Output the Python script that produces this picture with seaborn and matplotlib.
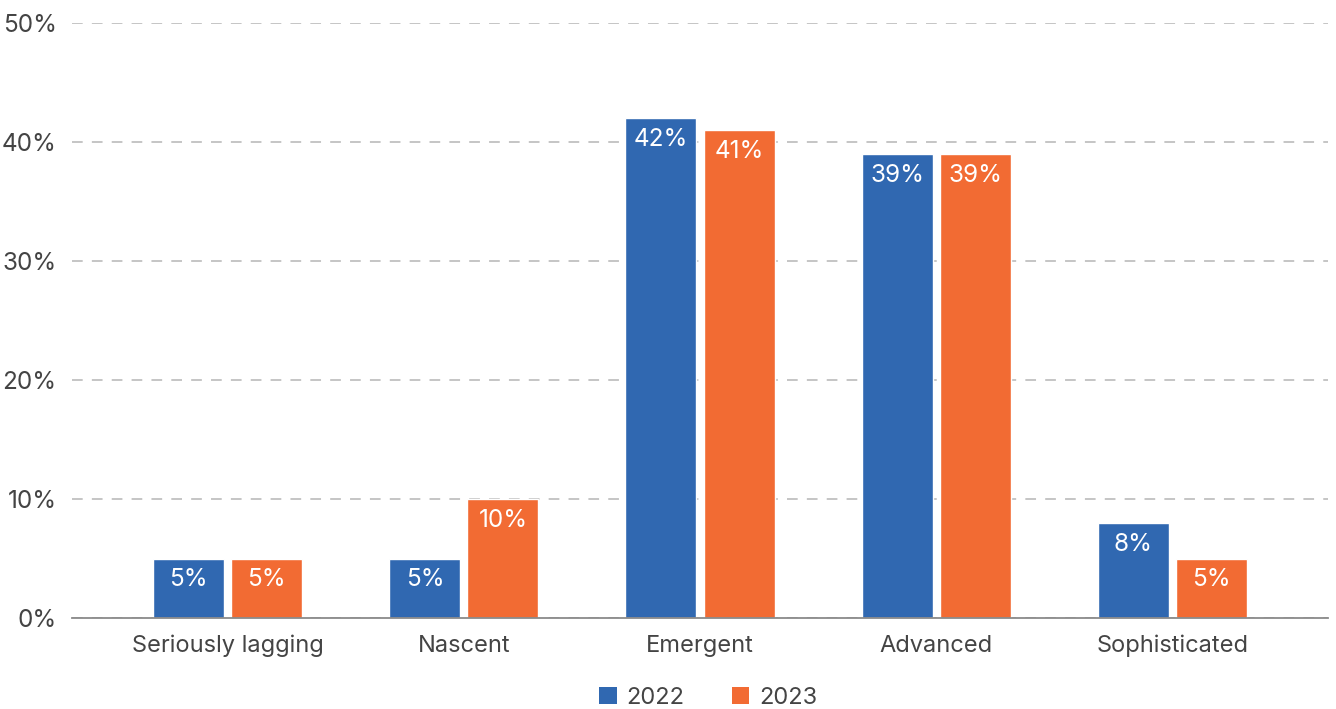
import matplotlib
matplotlib.use("Agg")
import matplotlib.pyplot as plt
import seaborn as sns
import pandas as pd
from matplotlib.patches import Patch

categories = ["Seriously lagging", "Nascent", "Emergent", "Advanced", "Sophisticated"]
years = ["2022", "2023"]
values_2022 = [5, 5, 42, 39, 8]
values_2023 = [5, 10, 41, 39, 5]
yticks = [0, 10, 20, 30, 40, 50]

colors = {"2022": "#3068B1", "2023": "#F26B33"}

df = pd.DataFrame({
    "category": categories * 2,
    "year": ["2022"] * len(categories) + ["2023"] * len(categories),
    "value": values_2022 + values_2023,
})

sns.set_theme(style="white")
plt.rcParams["font.family"] = ["Inter", "DejaVu Sans"]

fig = plt.figure(figsize=(13.36, 7.09), dpi=100)
ax = fig.add_axes([0.0539, 0.1283, 0.9401, 0.8393])

sns.barplot(data=df, x="category", y="value", hue="year", order=categories,
            hue_order=years, palette=colors, width=0.661, gap=0.09,
            saturation=1, ax=ax, legend=False)

ax.set_ylim(0, 50)
ax.set_xlim(-0.66, 4.66)
ax.set_yticks(yticks)
ax.set_yticklabels([f"{t}%" for t in yticks])
ax.yaxis.grid(True, linestyle=(0, (7, 6)), color="#b5b5b5", linewidth=1.1)
ax.set_axisbelow(True)
for s in ["top", "right", "left"]:
    ax.spines[s].set_visible(False)
ax.spines["bottom"].set_color("#8a8a8a")
ax.spines["bottom"].set_linewidth(1.3)
ax.set_xlabel("")
ax.set_ylabel("")
ax.tick_params(axis="y", length=0, pad=11, labelsize=17.5, labelcolor="#444444")
ax.tick_params(axis="x", length=0, pad=12, labelsize=17, labelcolor="#444444")

for cont in ax.containers:
    for bar in cont:
        h = bar.get_height()
        ax.annotate(f"{h:g}%", (bar.get_x() + bar.get_width() / 2, h),
                    xytext=(0, -7), textcoords="offset points",
                    ha="center", va="top", color="white", fontsize=17.5)

handles = [Patch(facecolor=colors[y], edgecolor="none", label=y) for y in years]
fig.legend(handles=handles, loc="lower center", ncol=2, frameon=False,
           bbox_to_anchor=(0.53, -0.03), fontsize=17, handlelength=0.75,
           handleheight=0.75, handletextpad=0.4, columnspacing=2.0,
           labelcolor="#444444")

fig.savefig("out.png", dpi=100)
